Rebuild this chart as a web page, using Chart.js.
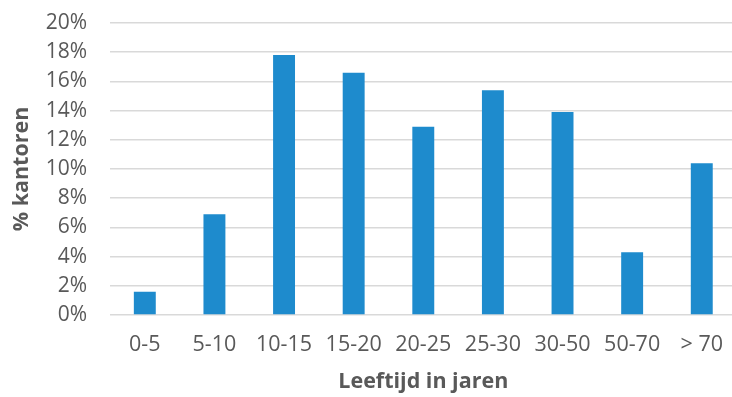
<!DOCTYPE html>
<html>
<head>
<meta charset="utf-8">
<script src="https://cdn.jsdelivr.net/npm/chart.js@4.4.1/dist/chart.umd.min.js"></script>
<style>
  html, body { margin: 0; padding: 0; background: #fff; overflow: hidden; }
  #wrap { width: 740px; height: 397px; }
</style>
</head>
<body>
<div id="wrap"><canvas id="chart" width="740" height="397"></canvas></div>
<script>
const categories = ['0-5', '5-10', '10-15', '15-20', '20-25', '25-30', '30-50', '50-70', '> 70'];
const percentages = [1.6, 6.9, 17.8, 16.6, 12.9, 15.4, 13.9, 4.3, 10.4];
const yTicks = [0, 2, 4, 6, 8, 10, 12, 14, 16, 18, 20];

const textColor = '#595959';
const fontFamily = '"Open Sans", sans-serif';

const ctx = document.getElementById('chart').getContext('2d');
new Chart(ctx, {
    type: 'bar',
    data: {
        labels: categories,
        datasets: [{
            data: percentages,
            backgroundColor: '#1e8bcd',
            borderWidth: 0,
            barPercentage: 0.315,
            categoryPercentage: 1
        }]
    },
    options: {
        responsive: false,
        animation: false,
        layout: { padding: { top: 23, right: 0, left: 0, bottom: 0 } },
        plugins: { legend: { display: false }, tooltip: { enabled: false } },
        scales: {
            x: {
                grid: { display: false, drawTicks: false },
                border: { display: false },
                ticks: { color: textColor, font: { family: fontFamily, size: 21.5 }, padding: 17 },
                title: {
                    display: true,
                    text: 'Leeftijd in jaren',
                    color: textColor,
                    font: { family: fontFamily, size: 21.5, weight: 'bold' },
                    padding: { top: 0, bottom: 2 }
                },
                afterFit: scale => { scale.height = 82; }
            },
            y: {
                min: 0,
                max: 20,
                afterBuildTicks: scale => { scale.ticks = yTicks.map(v => ({ value: v })); },
                grid: { color: '#d9d9d9', lineWidth: 1.5, drawTicks: false },
                border: { display: false },
                ticks: {
                    color: textColor,
                    font: { family: fontFamily, size: 21 },
                    padding: 23,
                    callback: v => v + '%'
                },
                title: {
                    display: true,
                    text: '% kantoren',
                    color: textColor,
                    font: { family: fontFamily, size: 21.5, weight: 'bold' },
                    padding: { top: 9, bottom: 0 }
                },
                afterFit: scale => {
                    scale.width = 110;
                    scale.paddingTop = 0;
                    scale.paddingBottom = 0;
                }
            }
        }
    }
});
</script>
</body>
</html>
